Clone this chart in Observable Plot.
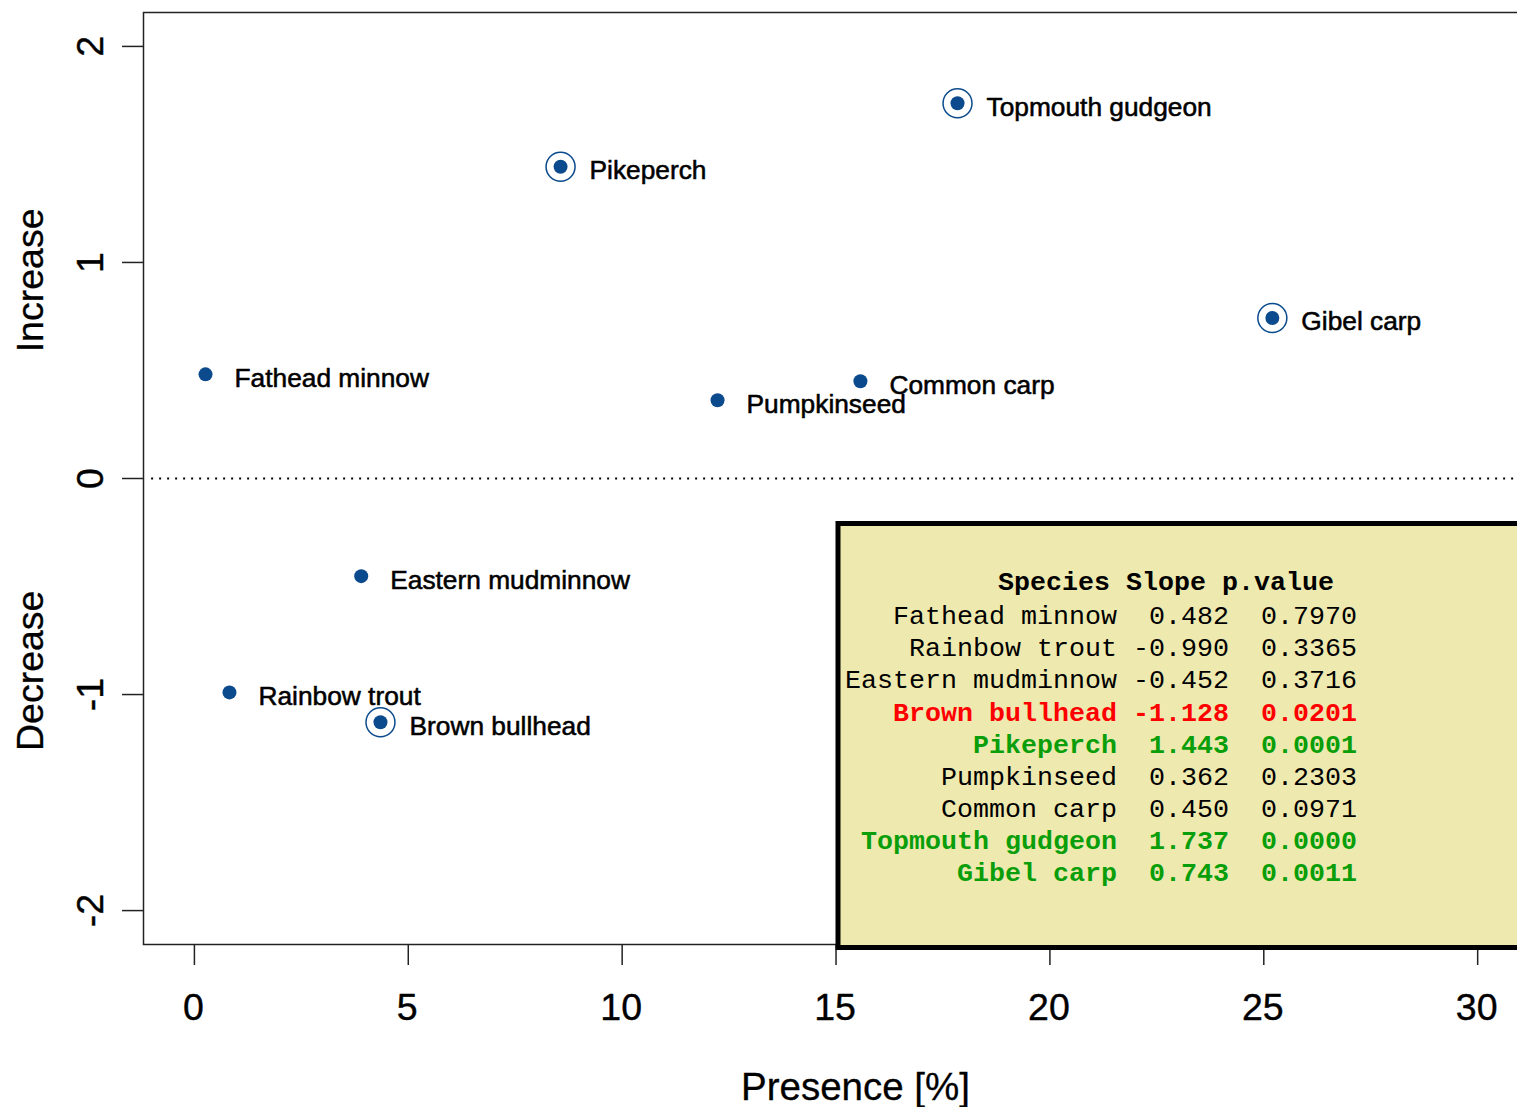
<!DOCTYPE html>
<html>
<head>
<meta charset="utf-8">
<script src="https://cdn.jsdelivr.net/npm/d3@7"></script>
<script src="https://cdn.jsdelivr.net/npm/@observablehq/plot@0.6"></script>
<style>
  html, body { margin: 0; padding: 0; background: #fff; overflow: hidden; }
  #chart { width: 1517px; height: 1107px; overflow: hidden; }
</style>
</head>
<body>
<div id="chart"></div>
<script>
// ---- data ----
const species  = ["Fathead minnow", "Rainbow trout", "Eastern mudminnow", "Brown bullhead", "Pikeperch", "Pumpkinseed", "Common carp", "Topmouth gudgeon", "Gibel carp"];
const presence = [0.26, 0.82, 3.9, 4.35, 8.56, 12.23, 15.57, 17.84, 25.2];
const slope    = [0.482, -0.990, -0.452, -1.128, 1.443, 0.362, 0.450, 1.737, 0.743];
const pvalue   = [0.7970, 0.3365, 0.3716, 0.0201, 0.0001, 0.2303, 0.0971, 0.0000, 0.0011];
const xTicks   = [0, 5, 10, 15, 20, 25, 30];
const yTicks   = [-2, -1, 0, 1, 2];
const sideLabels = ["Increase", "Decrease"];

const data = species.map((s, i) => ({species: s, presence: presence[i], slope: slope[i], p: pvalue[i]}));
const sig = data.filter(d => d.p < 0.05);

const dotColor = "#0B4A8C";
const fs = 37.5;
const sans = "'Liberation Sans', Arial, sans-serif";

const plot = Plot.plot({
  width: 1570,
  height: 1107,
  marginLeft: 143,
  marginRight: 3,
  marginTop: 12,
  marginBottom: 163,
  style: {background: "#fff", fontFamily: sans, overflow: "visible", maxWidth: "none"},
  x: {type: "linear", domain: [-1.19, 32.1], axis: null},
  y: {type: "linear", domain: [-2.157, 2.157], axis: null},
  marks: [
    Plot.ruleY([0], {x1: -1.0, x2: 32.1, stroke: "#000", strokeWidth: 1.8, strokeDasharray: "2,6"}),
    Plot.frame({stroke: "#222", strokeWidth: 1.5}),
    Plot.axisX({ticks: xTicks, tickSize: 21, tickFormat: () => "", stroke: "#222", strokeWidth: 1.5, label: null}),
    Plot.axisY({ticks: yTicks, tickSize: 21, tickFormat: () => "", stroke: "#222", strokeWidth: 1.5, label: null}),
    Plot.text(xTicks, {x: d => d, frameAnchor: "bottom", dy: 63, dx: -1, text: d => String(d), fontSize: fs, fill: "#000", stroke: "#000", strokeWidth: 0.4, lineAnchor: "middle"}),
    Plot.text(yTicks, {y: d => d, frameAnchor: "left", dx: -53, text: d => String(d), fontSize: fs, fill: "#000", stroke: "#000", strokeWidth: 0.4, rotate: -90, textAnchor: "middle", lineAnchor: "middle"}),
    Plot.text(["Presence [%]"], {frameAnchor: "bottom", dy: 143, text: d => d, fontSize: 38.5, fill: "#000", stroke: "#000", strokeWidth: 0.3, lineAnchor: "middle"}),
    Plot.text(sideLabels, {y: (d, i) => i === 0 ? 0.917 : -0.89, frameAnchor: "left", dx: -113, text: d => d, fontSize: fs, fill: "#000", stroke: "#000", strokeWidth: 0.3, rotate: -90, textAnchor: "middle", lineAnchor: "middle"}),
    Plot.dot(sig, {x: "presence", y: "slope", r: 14.5, stroke: dotColor, strokeWidth: 1.5, fill: "none"}),
    Plot.dot(data, {x: "presence", y: "slope", r: 7, fill: dotColor, stroke: "none"}),
    Plot.text(data, {x: "presence", y: "slope", text: "species", dx: 29, dy: 4, textAnchor: "start", lineAnchor: "middle", fontSize: 26.3, fill: "#000", stroke: "#000", strokeWidth: 0.55})
  ]
});

document.getElementById("chart").appendChild(plot);

// ---- legend table (annotation box) ----
const svg = d3.select(plot);
const g = svg.append("g").attr("text-anchor", "start");
g.append("rect")
  .attr("x", 838).attr("y", 523.5)
  .attr("width", 800).attr("height", 424)
  .attr("fill", "#EEEAAF").attr("stroke", "#000").attr("stroke-width", 5);

const mono = "'Liberation Mono', 'DejaVu Sans Mono', monospace";
const mfs = 26.67;
g.append("text")
  .attr("x", 998).attr("y", 589.5).attr("text-anchor", "start")
  .style("font-family", mono).style("font-size", mfs + "px").style("font-weight", "bold")
  .style("white-space", "pre").attr("fill", "#000")
  .text("Species Slope p.value");

const fmtS = d3.format(".3f"), fmtP = d3.format(".4f");
data.forEach((d, i) => {
  const line = d.species.padStart(17, " ") + " " + fmtS(d.slope).replace("−", "-").padStart(6, " ") + "  " + fmtP(d.p);
  const col = d.p < 0.05 ? (d.slope < 0 ? "#FF0000" : "#0A9E0A") : "#000";
  g.append("text")
    .attr("x", 845).attr("y", 624.2 + i * 32.1).attr("text-anchor", "start")
    .style("font-family", mono).style("font-size", mfs + "px")
    .style("font-weight", d.p < 0.05 ? "bold" : "normal")
    .style("white-space", "pre").attr("fill", col)
    .text(line);
});
</script>
</body>
</html>
